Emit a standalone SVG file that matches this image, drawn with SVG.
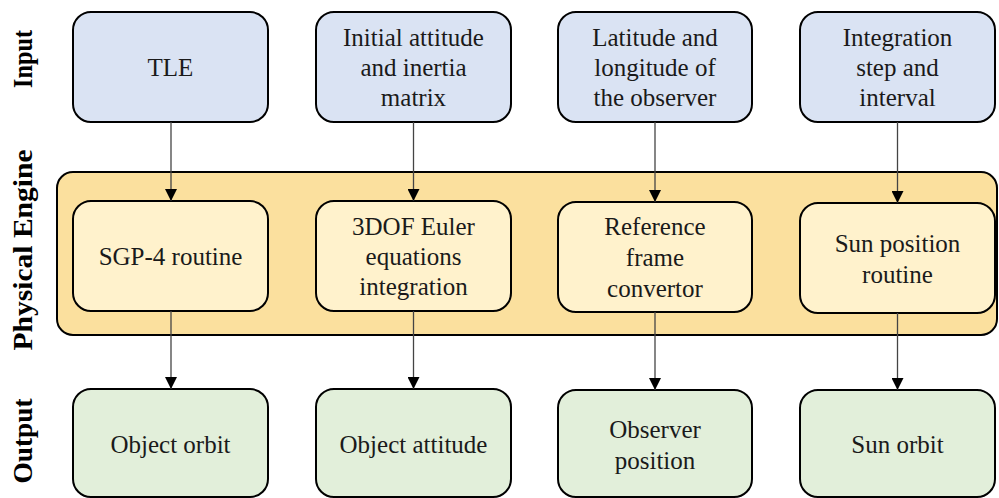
<svg xmlns="http://www.w3.org/2000/svg" width="999" height="498" viewBox="0 0 999 498">
  <defs>
    <marker id="arrow" viewBox="0 0 12 12" refX="12" refY="6" markerWidth="12" markerHeight="12" markerUnits="userSpaceOnUse" orient="auto">
      <path d="M0,0 L12,6 L0,12 Z" fill="#000"/>
    </marker>
  </defs>
  <style>
    .box { stroke: #000; stroke-width: 2; }
    .input { fill: #dae3f3; }
    .engine { fill: #fff2cc; }
    .output { fill: #e2efda; }
    .band { fill: #fbe09e; stroke: #000; stroke-width: 2; }
    .label { font-family: "Liberation Serif", "Times New Roman", serif; font-size: 25px; fill: #1a1a1a; text-anchor: middle; }
    .side { font-family: "Liberation Serif", "Times New Roman", serif; font-size: 27px; font-weight: bold; fill: #000; text-anchor: middle; }
    .conn { stroke: #444; stroke-width: 1.3; fill: none; marker-end: url(#arrow); }
  </style>
  <rect width="999" height="498" fill="#fff"/>

  <!-- row titles -->
  <g id="row-titles">
    <text class="side" transform="translate(32,59) rotate(-90)" textLength="58" lengthAdjust="spacingAndGlyphs">Input</text>
    <text class="side" transform="translate(32,250) rotate(-90)" textLength="201" lengthAdjust="spacingAndGlyphs">Physical Engine</text>
    <text class="side" transform="translate(32,441) rotate(-90)" textLength="85" lengthAdjust="spacingAndGlyphs">Output</text>
  </g>

  <!-- physical engine band -->
  <g id="engine-band">
    <rect class="band" x="57" y="172" width="940" height="163" rx="16"/>
  </g>

  <!-- inputs -->
  <g id="in-tle">
    <rect class="box input" x="73" y="12" width="195" height="110" rx="18"/>
    <text class="label" x="170.5" y="76">TLE</text>
  </g>
  <g id="in-attitude">
    <rect class="box input" x="316" y="12" width="195" height="110" rx="18"/>
    <text class="label" x="413.5" y="46">Initial attitude</text>
    <text class="label" x="413.5" y="76">and inertia</text>
    <text class="label" x="413.5" y="106">matrix</text>
  </g>
  <g id="in-observer">
    <rect class="box input" x="558" y="12" width="194" height="110" rx="18"/>
    <text class="label" x="655" y="46">Latitude and</text>
    <text class="label" x="655" y="76">longitude of</text>
    <text class="label" x="655" y="106">the observer</text>
  </g>
  <g id="in-step">
    <rect class="box input" x="800" y="12" width="195" height="110" rx="18"/>
    <text class="label" x="897.5" y="46">Integration</text>
    <text class="label" x="897.5" y="76">step and</text>
    <text class="label" x="897.5" y="106">interval</text>
  </g>

  <!-- engine blocks -->
  <g id="eng-sgp4">
    <rect class="box engine" x="73" y="201" width="195" height="110" rx="18"/>
    <text class="label" x="170.5" y="265">SGP-4 routine</text>
  </g>
  <g id="eng-euler">
    <rect class="box engine" x="316" y="201" width="195" height="110" rx="18"/>
    <text class="label" x="413.5" y="235">3DOF Euler</text>
    <text class="label" x="413.5" y="265">equations</text>
    <text class="label" x="413.5" y="295">integration</text>
  </g>
  <g id="eng-frame">
    <rect class="box engine" x="558" y="202" width="194" height="110" rx="18"/>
    <text class="label" x="655" y="235">Reference</text>
    <text class="label" x="655" y="266">frame</text>
    <text class="label" x="655" y="297">convertor</text>
  </g>
  <g id="eng-sun">
    <rect class="box engine" x="800" y="203" width="195" height="110" rx="18"/>
    <text class="label" x="897.5" y="252">Sun position</text>
    <text class="label" x="897.5" y="283">routine</text>
  </g>

  <!-- outputs -->
  <g id="out-orbit">
    <rect class="box output" x="73" y="389" width="195" height="108" rx="18"/>
    <text class="label" x="170.5" y="453">Object orbit</text>
  </g>
  <g id="out-attitude">
    <rect class="box output" x="316" y="389" width="195" height="108" rx="18"/>
    <text class="label" x="413.5" y="453">Object attitude</text>
  </g>
  <g id="out-observer">
    <rect class="box output" x="558" y="390" width="194" height="107" rx="18"/>
    <text class="label" x="655" y="438">Observer</text>
    <text class="label" x="655" y="469">position</text>
  </g>
  <g id="out-sun">
    <rect class="box output" x="800" y="390" width="195" height="107" rx="18"/>
    <text class="label" x="897.5" y="453">Sun orbit</text>
  </g>

  <!-- connectors -->
  <g id="connectors">
    <line class="conn" x1="171" y1="122" x2="171" y2="201"/>
    <line class="conn" x1="413.5" y1="122" x2="413.5" y2="201"/>
    <line class="conn" x1="655" y1="122" x2="655" y2="202"/>
    <line class="conn" x1="897.5" y1="122" x2="897.5" y2="203"/>
    <line class="conn" x1="171" y1="311" x2="171" y2="389"/>
    <line class="conn" x1="413.5" y1="311" x2="413.5" y2="389"/>
    <line class="conn" x1="655" y1="312" x2="655" y2="390"/>
    <line class="conn" x1="897.5" y1="313" x2="897.5" y2="390"/>
  </g>
</svg>
